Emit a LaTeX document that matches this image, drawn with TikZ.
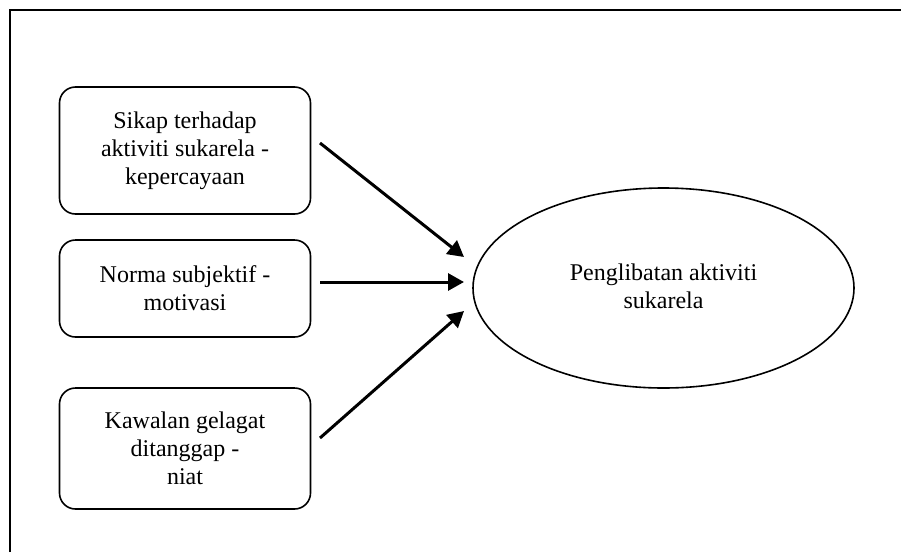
\documentclass[tikz,border=0pt]{standalone}
\usepackage{fontspec}
\setmainfont{Liberation Serif}
\usetikzlibrary{arrows.meta,shapes.geometric}
\begin{document}
\begin{tikzpicture}[x=1pt,y=-1pt,
  every node/.style={font=\fontsize{24}{28}\selectfont, align=center},
  rbox/.style={draw, line width=1.6pt, rounded corners=16pt, minimum width=251pt, inner sep=0pt},
  arr/.style={line width=3pt, -{Triangle[length=16pt,width=17pt]}, shorten >=0pt},
  frameline/.style={line width=2pt}]
\useasboundingbox (0,0) rectangle (901,552);
\draw[frameline] (9.5,552) -- (9.5,10) -- (901,10);
\node[rbox, minimum height=127pt] (b1) at (185,150.5) {Sikap terhadap\\aktiviti sukarela -\\kepercayaan};
\node[rbox, minimum height=97pt] (b2) at (185,288.5) {Norma subjektif -\\motivasi};
\node[rbox, minimum height=121pt] (b3) at (185,448.5) {Kawalan gelagat\\ditanggap -\\niat};
\node[draw, ellipse, line width=1.6pt, minimum width=381pt, minimum height=200pt, inner sep=0pt] (e) at (663.5,288) {};
\node (et) at (663.5,286) {Penglibatan aktiviti\\sukarela};
\coordinate (s1) at (320,143);
\coordinate (s2) at (320,282);
\coordinate (s3) at (320,438);
\coordinate (t1) at (464,257);
\coordinate (t2) at (464,282);
\coordinate (t3) at (464,311);
\draw[arr] (s1) -- (t1);
\draw[arr] (s2) -- (t2);
\draw[arr] (s3) -- (t3);
\end{tikzpicture}
\end{document}
